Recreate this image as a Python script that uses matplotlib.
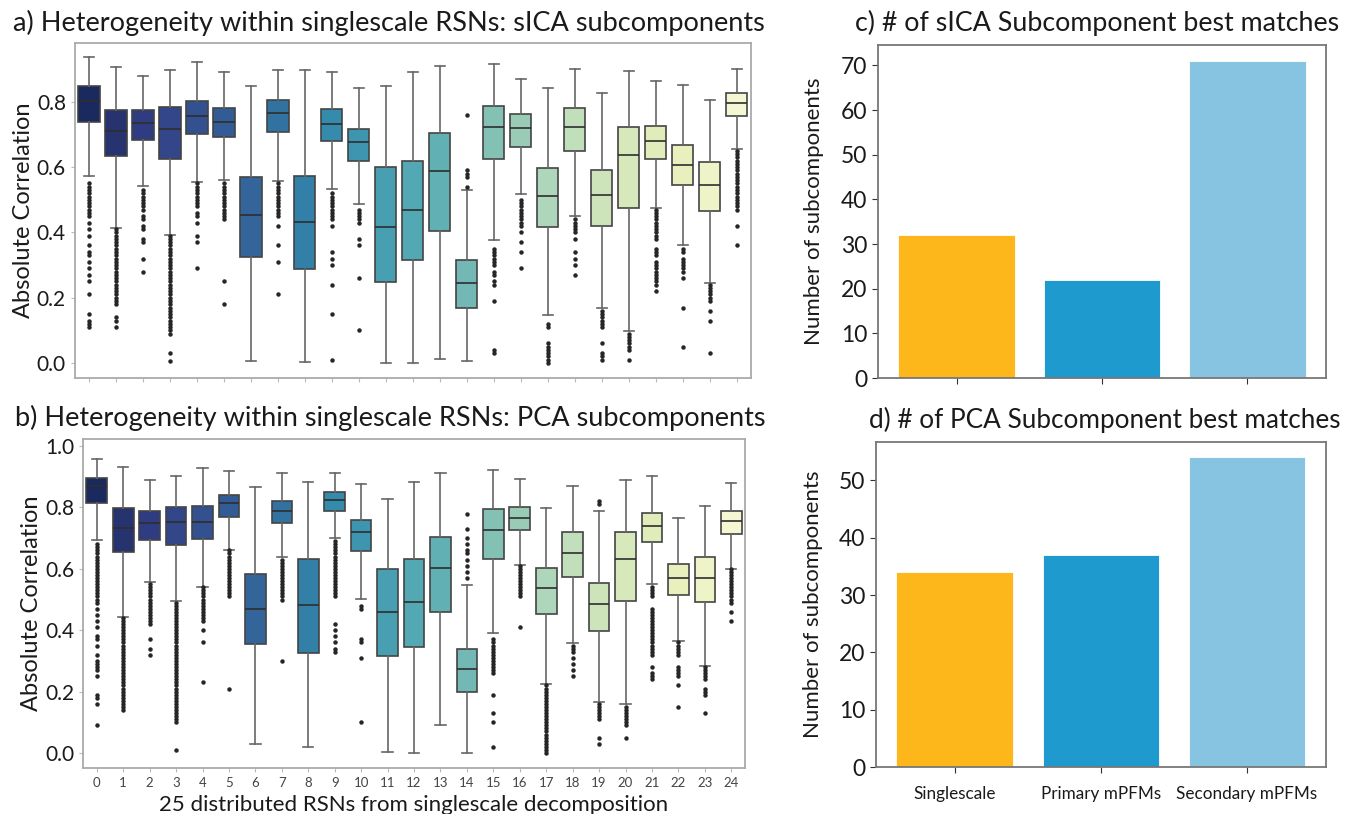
import colorsys
import numpy as np
import matplotlib
matplotlib.use("Agg")
import matplotlib.pyplot as plt
from matplotlib import colormaps

plt.rcParams['font.family'] = ['Lato', 'DejaVu Sans']

# ---------------- data ----------------
rsn_ids = list(range(25))
rsn_tick_labels = [str(i) for i in rsn_ids]

# sICA subcomponent correlations: box statistics per RSN
sica_q1 = [0.737, 0.633, 0.684, 0.626, 0.702, 0.692, 0.326, 0.707, 0.287, 0.681, 0.620, 0.249, 0.314,
           0.404, 0.168, 0.625, 0.661, 0.416, 0.649, 0.421, 0.474, 0.626, 0.544, 0.466, 0.756]
sica_med = [0.804, 0.712, 0.735, 0.717, 0.756, 0.737, 0.454, 0.766, 0.431, 0.732, 0.676, 0.418, 0.468,
            0.588, 0.246, 0.724, 0.719, 0.513, 0.723, 0.516, 0.637, 0.680, 0.607, 0.545, 0.797]
sica_q3 = [0.848, 0.776, 0.776, 0.783, 0.804, 0.780, 0.569, 0.807, 0.572, 0.779, 0.718, 0.600, 0.620,
           0.705, 0.316, 0.788, 0.764, 0.598, 0.782, 0.592, 0.723, 0.726, 0.667, 0.615, 0.827]
sica_wlo = [0.572, 0.415, 0.541, 0.391, 0.553, 0.561, 0.007, 0.558, 0.002, 0.534, 0.487, 0.001, 0.001,
            0.011, 0.005, 0.377, 0.519, 0.146, 0.449, 0.170, 0.099, 0.476, 0.360, 0.246, 0.655]
sica_whi = [0.937, 0.907, 0.878, 0.899, 0.922, 0.892, 0.850, 0.896, 0.899, 0.891, 0.843, 0.848, 0.892,
            0.911, 0.530, 0.917, 0.870, 0.842, 0.901, 0.827, 0.895, 0.863, 0.853, 0.807, 0.901]
sica_fliers = [
    [0.55, 0.54, 0.53, 0.52, 0.51, 0.50, 0.49, 0.48, 0.47, 0.46, 0.45, 0.43, 0.41, 0.39, 0.36, 0.34,
     0.33, 0.31, 0.29, 0.27, 0.25, 0.21, 0.15, 0.13, 0.12, 0.11],
    [0.41, 0.40, 0.39, 0.38, 0.37, 0.36, 0.35, 0.34, 0.33, 0.32, 0.31, 0.30, 0.29, 0.28, 0.27, 0.26,
     0.25, 0.24, 0.23, 0.22, 0.21, 0.20, 0.19, 0.18, 0.14, 0.13, 0.11],
    [0.53, 0.52, 0.51, 0.50, 0.49, 0.48, 0.47, 0.45, 0.44, 0.42, 0.41, 0.38, 0.37, 0.32, 0.28],
    [0.39, 0.38, 0.37, 0.36, 0.35, 0.34, 0.33, 0.32, 0.31, 0.30, 0.29, 0.28, 0.27, 0.26, 0.25, 0.24,
     0.23, 0.22, 0.21, 0.20, 0.19, 0.18, 0.17, 0.16, 0.15, 0.14, 0.13, 0.12, 0.11, 0.10, 0.09, 0.03, 0.005],
    [0.55, 0.54, 0.53, 0.52, 0.51, 0.50, 0.49, 0.48, 0.46, 0.45, 0.43, 0.39, 0.37, 0.29],
    [0.55, 0.54, 0.53, 0.52, 0.51, 0.50, 0.49, 0.48, 0.47, 0.46, 0.45, 0.44, 0.25, 0.18],
    [],
    [0.55, 0.54, 0.53, 0.52, 0.51, 0.50, 0.49, 0.48, 0.47, 0.46, 0.45, 0.42, 0.36, 0.31, 0.21],
    [],
    [0.52, 0.51, 0.50, 0.49, 0.48, 0.47, 0.46, 0.45, 0.44, 0.42, 0.34, 0.32, 0.30, 0.24, 0.15, 0.01],
    [0.47, 0.46, 0.45, 0.44, 0.43, 0.38, 0.36, 0.26, 0.10],
    [],
    [],
    [],
    [0.76, 0.59, 0.58, 0.57, 0.54],
    [0.35, 0.34, 0.33, 0.32, 0.31, 0.30, 0.28, 0.27, 0.25, 0.24, 0.19, 0.04, 0.03],
    [0.50, 0.49, 0.48, 0.47, 0.46, 0.45, 0.44, 0.43, 0.42, 0.40, 0.37, 0.34, 0.29],
    [0.12, 0.11, 0.06, 0.05, 0.04, 0.03, 0.02, 0.01, 0.00],
    [0.44, 0.43, 0.42, 0.41, 0.40, 0.38, 0.34, 0.32, 0.30, 0.27],
    [0.16, 0.15, 0.14, 0.13, 0.12, 0.11, 0.06, 0.03, 0.02, 0.01],
    [0.09, 0.08, 0.07, 0.06, 0.05, 0.04, 0.01],
    [0.47, 0.46, 0.45, 0.44, 0.43, 0.42, 0.41, 0.40, 0.39, 0.38, 0.35, 0.34, 0.33, 0.31, 0.30, 0.29,
     0.28, 0.27, 0.26, 0.25, 0.24, 0.22],
    [0.35, 0.34, 0.32, 0.31, 0.30, 0.29, 0.28, 0.26, 0.17, 0.05],
    [0.24, 0.23, 0.22, 0.21, 0.20, 0.19, 0.16, 0.13, 0.03],
    [0.65, 0.64, 0.63, 0.62, 0.61, 0.60, 0.59, 0.58, 0.57, 0.56, 0.55, 0.54, 0.53, 0.52, 0.51, 0.50,
     0.49, 0.48, 0.47, 0.42, 0.36],
]

# PCA subcomponent correlations: box statistics per RSN
pca_q1 = [0.815, 0.655, 0.695, 0.677, 0.698, 0.768, 0.355, 0.749, 0.325, 0.788, 0.657, 0.316, 0.344,
          0.459, 0.200, 0.631, 0.727, 0.452, 0.574, 0.398, 0.494, 0.689, 0.516, 0.491, 0.713]
pca_med = [0.870, 0.733, 0.749, 0.751, 0.754, 0.813, 0.468, 0.789, 0.482, 0.825, 0.719, 0.458, 0.492,
           0.604, 0.275, 0.725, 0.767, 0.537, 0.653, 0.484, 0.632, 0.741, 0.570, 0.569, 0.755]
pca_q3 = [0.897, 0.797, 0.788, 0.802, 0.804, 0.842, 0.583, 0.821, 0.633, 0.849, 0.759, 0.599, 0.631,
          0.703, 0.338, 0.796, 0.802, 0.603, 0.720, 0.555, 0.719, 0.783, 0.615, 0.639, 0.789]
pca_wlo = [0.693, 0.444, 0.558, 0.495, 0.542, 0.660, 0.029, 0.638, 0.019, 0.701, 0.503, 0.002, 0.000,
           0.092, 0.001, 0.391, 0.613, 0.226, 0.357, 0.166, 0.159, 0.549, 0.365, 0.282, 0.601]
pca_whi = [0.959, 0.933, 0.891, 0.902, 0.928, 0.918, 0.868, 0.912, 0.882, 0.911, 0.876, 0.826, 0.884,
           0.913, 0.547, 0.923, 0.892, 0.799, 0.871, 0.790, 0.888, 0.901, 0.764, 0.804, 0.880]
pca_fliers = [
    [0.68, 0.67, 0.66, 0.65, 0.64, 0.63, 0.62, 0.61, 0.60, 0.59, 0.58, 0.57, 0.56, 0.55, 0.54, 0.53,
     0.52, 0.51, 0.50, 0.49, 0.47, 0.45, 0.43, 0.41, 0.38, 0.37, 0.35, 0.32, 0.30, 0.29, 0.28, 0.27,
     0.25, 0.19, 0.18, 0.16, 0.09],
    [0.44, 0.43, 0.42, 0.41, 0.40, 0.39, 0.38, 0.37, 0.36, 0.35, 0.34, 0.33, 0.32, 0.31, 0.30, 0.29,
     0.28, 0.27, 0.26, 0.25, 0.24, 0.23, 0.22, 0.21, 0.20, 0.19, 0.18, 0.17, 0.16, 0.15, 0.14],
    [0.55, 0.54, 0.53, 0.52, 0.51, 0.50, 0.49, 0.48, 0.47, 0.46, 0.45, 0.44, 0.43, 0.42, 0.37, 0.34, 0.32],
    [0.49, 0.48, 0.47, 0.46, 0.45, 0.44, 0.43, 0.42, 0.41, 0.40, 0.39, 0.38, 0.37, 0.36, 0.35, 0.34,
     0.33, 0.32, 0.31, 0.30, 0.29, 0.28, 0.27, 0.26, 0.25, 0.24, 0.23, 0.22, 0.21, 0.20, 0.19, 0.18,
     0.17, 0.16, 0.15, 0.14, 0.13, 0.12, 0.11, 0.10, 0.01],
    [0.54, 0.53, 0.52, 0.51, 0.50, 0.49, 0.48, 0.47, 0.46, 0.45, 0.44, 0.43, 0.40, 0.36, 0.23],
    [0.66, 0.65, 0.64, 0.63, 0.62, 0.61, 0.60, 0.59, 0.58, 0.57, 0.56, 0.55, 0.54, 0.53, 0.52, 0.51, 0.21],
    [],
    [0.63, 0.62, 0.61, 0.60, 0.59, 0.58, 0.57, 0.56, 0.55, 0.54, 0.53, 0.52, 0.51, 0.50, 0.30],
    [],
    [0.69, 0.68, 0.67, 0.66, 0.65, 0.64, 0.63, 0.62, 0.61, 0.60, 0.59, 0.58, 0.57, 0.56, 0.55, 0.54,
     0.53, 0.52, 0.51, 0.42, 0.40, 0.38, 0.36, 0.34, 0.33],
    [0.48, 0.47, 0.37, 0.36, 0.31, 0.10],
    [],
    [],
    [],
    [0.78, 0.73, 0.70, 0.68, 0.66, 0.65, 0.63, 0.61, 0.59, 0.57],
    [0.37, 0.36, 0.35, 0.34, 0.33, 0.32, 0.31, 0.30, 0.29, 0.28, 0.27, 0.26, 0.19, 0.13, 0.10, 0.02],
    [0.61, 0.60, 0.59, 0.58, 0.57, 0.56, 0.55, 0.54, 0.53, 0.52, 0.51, 0.41],
    [0.22, 0.21, 0.20, 0.19, 0.18, 0.17, 0.16, 0.15, 0.14, 0.13, 0.12, 0.11, 0.10, 0.09, 0.08, 0.07,
     0.06, 0.05, 0.04, 0.03, 0.02, 0.01, 0.00],
    [0.35, 0.34, 0.33, 0.31, 0.29, 0.27, 0.25],
    [0.82, 0.81, 0.16, 0.15, 0.14, 0.13, 0.12, 0.11, 0.05, 0.03],
    [0.15, 0.14, 0.13, 0.12, 0.11, 0.10, 0.09, 0.05],
    [0.54, 0.53, 0.52, 0.51, 0.47, 0.46, 0.45, 0.44, 0.43, 0.42, 0.41, 0.40, 0.39, 0.38, 0.37, 0.36,
     0.35, 0.34, 0.33, 0.32, 0.28, 0.26, 0.25, 0.24],
    [0.36, 0.35, 0.34, 0.33, 0.32, 0.28, 0.27, 0.26, 0.25, 0.22, 0.15],
    [0.28, 0.27, 0.26, 0.25, 0.24, 0.21, 0.20, 0.19, 0.13],
    [0.60, 0.59, 0.58, 0.57, 0.56, 0.55, 0.54, 0.53, 0.52, 0.51, 0.50, 0.49, 0.46, 0.43],
]

# best-match counts
match_categories = ['Singlescale', 'Primary mPFMs', 'Secondary mPFMs']
sica_counts = [32, 22, 71]
pca_counts = [34, 37, 54]
bar_colors = ['#FDB71A', '#1F9ACE', '#87C4E2']


# ---------------- helpers ----------------
def desaturate(rgb, prop=0.75):
    h, l, s = colorsys.rgb_to_hls(*rgb[:3])
    return colorsys.hls_to_rgb(h, l, s * prop)


cmap = colormaps['YlGnBu_r']
box_colors = [desaturate(cmap(v)) for v in np.linspace(0, 1, len(rsn_ids) + 2)[1:-1]]


def draw_boxes(ax, q1, med, q3, wlo, whi, fliers):
    stats = []
    for i in range(len(rsn_ids)):
        stats.append(dict(q1=q1[i], med=med[i], q3=q3[i], whislo=wlo[i], whishi=whi[i],
                          fliers=fliers[i], label=rsn_tick_labels[i]))
    line_col = '#444444'
    art = ax.bxp(stats, positions=rsn_ids, widths=0.78, patch_artist=True,
                 boxprops=dict(edgecolor=line_col, linewidth=1.2),
                 medianprops=dict(color='#2e2e2e', linewidth=1.2),
                 whiskerprops=dict(color='#666666', linewidth=1.2),
                 capprops=dict(color='#666666', linewidth=1.2),
                 flierprops=dict(marker='o', markersize=2.2, markerfacecolor='#262626',
                                 markeredgecolor='#262626', linestyle='none'))
    for patch, col in zip(art['boxes'], box_colors):
        patch.set_facecolor(col)
    ax.set_xlim(-0.52, 24.52)
    for sp in ax.spines.values():
        sp.set_color('#aaaaaa')
        sp.set_linewidth(1.3)
    ax.tick_params(axis='both', colors='#bbbbbb', labelcolor='#1a1a1a', length=3, width=0.8)


def draw_bars(ax, counts, yticks):
    ax.bar(range(len(match_categories)), counts, color=bar_colors, width=0.8,
           edgecolor='white', linewidth=0.6)
    ax.set_xticks(range(len(match_categories)))
    ax.set_yticks(yticks)
    for sp in ax.spines.values():
        sp.set_color('#777777')
        sp.set_linewidth(1.3)
    ax.tick_params(axis='y', labelsize=16.5, colors='#333333', labelcolor='#1a1a1a', length=4)
    ax.tick_params(axis='x', colors='#333333', length=4)
    ax.set_ylabel('Number of subcomponents', fontsize=16, color='#1a1a1a', labelpad=12)


# ---------------- figure ----------------
fig = plt.figure(figsize=(13.46, 8.14), dpi=100)

ax_a = fig.add_axes([0.0557, 0.5356, 0.5022, 0.4115])
draw_boxes(ax_a, sica_q1, sica_med, sica_q3, sica_wlo, sica_whi, sica_fliers)
ax_a.set_ylim(-0.046, 0.98)
ax_a.set_yticks([0.0, 0.2, 0.4, 0.6, 0.8])
ax_a.set_yticklabels(['0.0', '0.2', '0.4', '0.6', '0.8'], fontsize=15)
ax_a.set_xticklabels([])
ax_a.set_ylabel('Absolute Correlation', fontsize=17, color='#1a1a1a', labelpad=2)
ax_a.set_title('a) Heterogeneity within singlescale RSNs: sICA subcomponents',
               fontsize=19.5, color='#1a1a1a', pad=9, x=0.464)

ax_b = fig.add_axes([0.0617, 0.0565, 0.4918, 0.4042])
draw_boxes(ax_b, pca_q1, pca_med, pca_q3, pca_wlo, pca_whi, pca_fliers)
ax_b.set_ylim(-0.049, 1.023)
ax_b.set_yticks([0.0, 0.2, 0.4, 0.6, 0.8, 1.0])
ax_b.set_yticklabels(['0.0', '0.2', '0.4', '0.6', '0.8', '1.0'], fontsize=15)
ax_b.set_xticklabels(rsn_tick_labels, fontsize=9.5, color='#444444')
ax_b.set_ylabel('Absolute Correlation', fontsize=17, color='#1a1a1a', labelpad=2)
ax_b.set_xlabel('25 distributed RSNs from singlescale decomposition', fontsize=16,
                color='#1a1a1a', labelpad=4)
ax_b.set_title('b) Heterogeneity within singlescale RSNs: PCA subcomponents',
               fontsize=19.5, color='#1a1a1a', pad=9, x=0.464)

ax_c = fig.add_axes([0.6523, 0.5356, 0.3328, 0.4091])
draw_bars(ax_c, sica_counts, [0, 10, 20, 30, 40, 50, 60, 70])
ax_c.set_xticklabels([])
ax_c.set_title('c) # of sICA Subcomponent best matches', fontsize=19.3, color='#1a1a1a', pad=10, x=0.49)

ax_d = fig.add_axes([0.6508, 0.0577, 0.3343, 0.3993])
draw_bars(ax_d, pca_counts, [0, 10, 20, 30, 40, 50])
ax_d.set_xticklabels(match_categories, fontsize=12.3, color='#1a1a1a')
ax_d.tick_params(axis='x', pad=10)
ax_d.set_title('d) # of PCA Subcomponent best matches', fontsize=18.8, color='#1a1a1a', pad=10, x=0.508)

fig.savefig('out.png', dpi=100, facecolor='white')
